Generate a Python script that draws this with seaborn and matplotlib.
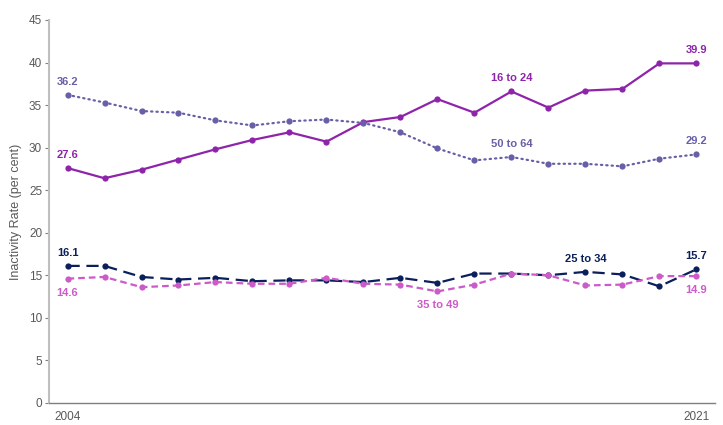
import matplotlib
matplotlib.use("Agg")
import matplotlib.pyplot as plt
import matplotlib.transforms as mtransforms
import pandas as pd
import seaborn as sns

years = list(range(2004, 2022))

age_16_24 = [27.6, 26.4, 27.4, 28.6, 29.8, 30.9, 31.8, 30.7, 33.0, 33.6, 35.7, 34.1,
             36.6, 34.7, 36.7, 36.9, 39.9, 39.9]
age_25_34 = [16.1, 16.1, 14.8, 14.5, 14.7, 14.3, 14.4, 14.4, 14.2, 14.7, 14.1, 15.2,
             15.2, 15.0, 15.4, 15.1, 13.7, 15.7]
age_35_49 = [14.6, 14.8, 13.6, 13.8, 14.2, 14.0, 14.0, 14.7, 14.0, 13.9, 13.1, 13.9,
             15.2, 15.0, 13.8, 13.9, 14.9, 14.9]
age_50_64 = [36.2, 35.3, 34.3, 34.1, 33.2, 32.6, 33.1, 33.3, 32.9, 31.8, 29.9, 28.5,
             28.9, 28.1, 28.1, 27.8, 28.7, 29.2]

groups = ["16 to 24", "25 to 34", "35 to 49", "50 to 64"]
series = [age_16_24, age_25_34, age_35_49, age_50_64]
colors = {"16 to 24": "#8E24AA", "25 to 34": "#0B1F5C",
          "35 to 49": "#CC5AC8", "50 to 64": "#6760A8"}
styles = {"16 to 24": "-", "25 to 34": (0, (5.5, 3)),
          "35 to 49": (0, (3, 1.8)), "50 to 64": (0, (0.6, 1.8))}

df = pd.DataFrame({"year": years * 4,
                   "rate": sum(series, []),
                   "group": [g for g in groups for _ in years]})

sns.set_style("white")
plt.rcParams["font.family"] = ["Liberation Sans", "DejaVu Sans"]

fig = plt.figure(figsize=(7.23, 4.25), dpi=100)
ax = fig.add_axes([0.0678, 0.052, 0.921, 0.901])

for g in groups:
    d = df[df["group"] == g]
    sns.lineplot(data=d, x="year", y="rate", ax=ax, color=colors[g],
                 linestyle=styles[g], linewidth=1.6, marker="o",
                 markersize=4.5, markeredgewidth=0, dash_capstyle="round"
                 if g == "50 to 64" else "butt")

# value labels at start and end, series names mid-chart
def label(x, y, text, g, up=True, bold=True):
    ax.annotate(text, (x, y), xytext=(0, 9.5 if up else -10), textcoords="offset points",
                ha="center", va="center", color=colors[g], fontsize=8,
                fontweight="bold" if bold else "normal")

label(2004, age_16_24[0], "27.6", "16 to 24")
label(2004, age_50_64[0], "36.2", "50 to 64")
label(2004, age_25_34[0], "16.1", "25 to 34")
label(2004, age_35_49[0], "14.6", "35 to 49", up=False)
label(2021, age_16_24[-1], "39.9", "16 to 24")
label(2021, age_50_64[-1], "29.2", "50 to 64")
label(2021, age_25_34[-1], "15.7", "25 to 34")
label(2021, age_35_49[-1], "14.9", "35 to 49", up=False)
label(2016, age_16_24[12], "16 to 24", "16 to 24")
label(2016, age_50_64[12], "50 to 64", "50 to 64")
label(2018, age_25_34[14], "25 to 34", "25 to 34")
label(2014, age_35_49[10], "35 to 49", "35 to 49", up=False)

ax.set_xlim(2003.5, 2021.5)
ax.set_ylim(0, 45)
ax.set_yticks(range(0, 46, 5))
ax.set_xticks([2004, 2021])
ax.set_xticklabels(["2004", "2021"])
shift = mtransforms.ScaledTranslation(-6 / 100, 0, fig.dpi_scale_trans)
for t in ax.get_xticklabels():
    t.set_transform(t.get_transform() + shift)
ax.set_xlabel("")
ax.set_ylabel("Inactivity Rate (per cent)", fontsize=9, color="#595959", labelpad=5)
ax.tick_params(axis="y", length=3, width=0.8, color="#808080", labelsize=8.5,
               labelcolor="#595959", left=True, pad=2)
ax.tick_params(axis="x", length=0, labelsize=8.5, labelcolor="#595959", pad=6)
for s in ["top", "right"]:
    ax.spines[s].set_visible(False)
ax.spines["left"].set_color("#BFBFBF")
ax.spines["left"].set_linewidth(1.5)
ax.spines["bottom"].set_color("#7F7F7F")
ax.spines["bottom"].set_linewidth(1.0)
ax.grid(False)
legend = ax.get_legend()
if legend:
    legend.remove()

fig.savefig("out.png", dpi=100)
